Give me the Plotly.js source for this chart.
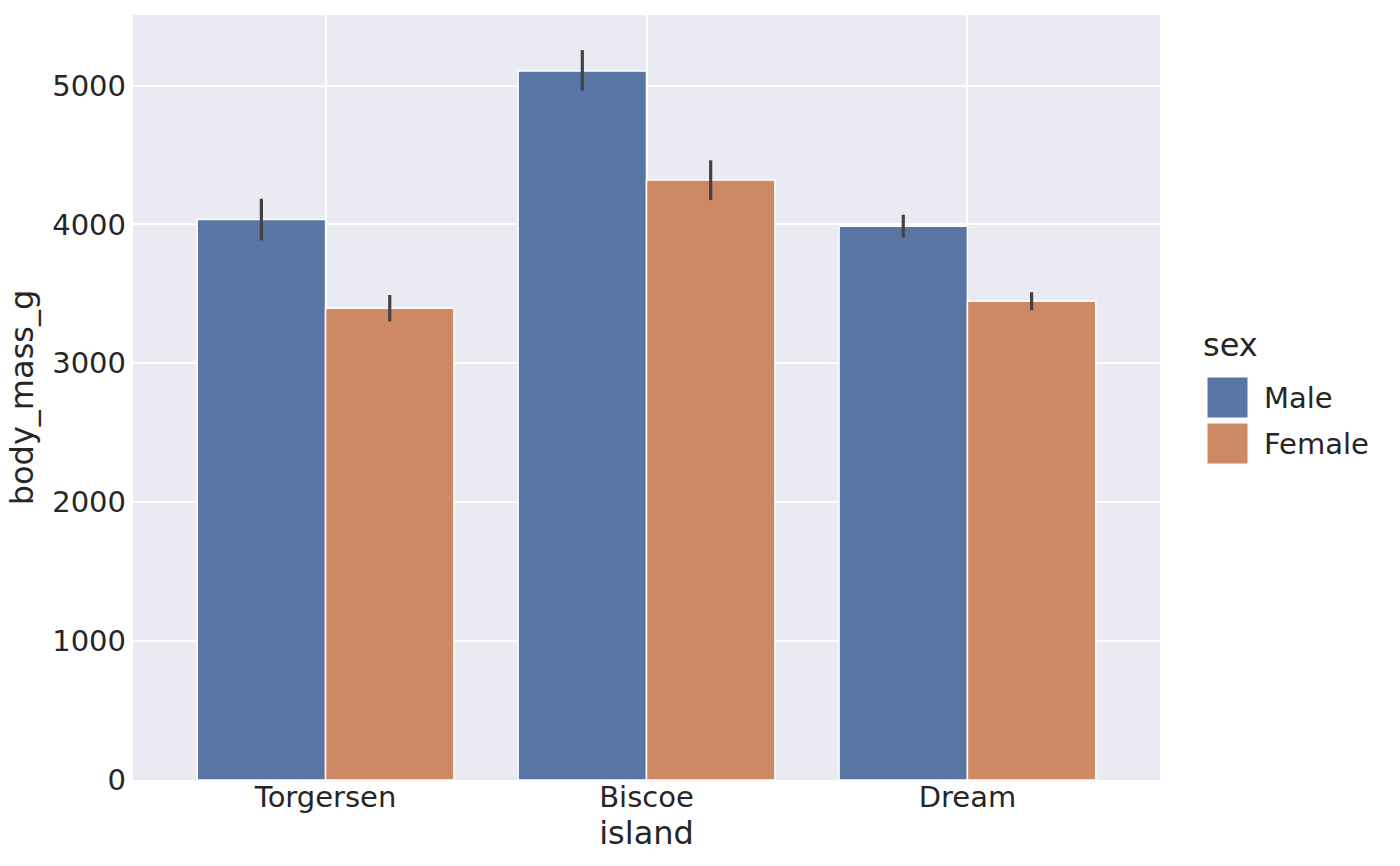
<!DOCTYPE html>
<html>
<head>
<meta charset="utf-8">
<script src="https://cdn.plot.ly/plotly-3.0.1.min.js"></script>
<style>html,body{margin:0;padding:0;background:#fff;}#chart{width:1400px;height:866px;}</style>
</head>
<body>
<div id="chart"></div>
<script>
// ---- data ----
const islands = ['Torgersen', 'Biscoe', 'Dream'];
const sexLabels = ['Male', 'Female'];
const maleMass = [4034.8, 5104.5, 3987.1];
const femaleMass = [3395.8, 4319.4, 3446.3];
const maleCiLow = [3885, 4965, 3905];
const maleCiHigh = [4185, 5255, 4070];
const femaleCiLow = [3302, 4175, 3382];
const femaleCiHigh = [3492, 4462, 3512];
const yTicks = [0, 1000, 2000, 3000, 4000, 5000];

// ---- styling ----
const colors = ['#5975a4', '#cc8963'];
const textColor = '#262626';
const fontFam = 'DejaVu Sans, sans-serif';
const tickSize = 29;
const titleSize = 32;

function errArrays(mean, lo, hi) {
  return {
    type: 'data', symmetric: false,
    array: hi.map((h, i) => h - mean[i]),
    arrayminus: mean.map((m, i) => m - lo[i]),
    color: '#424242', thickness: 3.2, width: 0
  };
}

const series = [
  {name: sexLabels[0], y: maleMass, lo: maleCiLow, hi: maleCiHigh},
  {name: sexLabels[1], y: femaleMass, lo: femaleCiLow, hi: femaleCiHigh}
];

const traces = series.map((s, i) => ({
  type: 'bar', name: s.name, x: islands, y: s.y,
  marker: {color: colors[i], line: {color: '#ffffff', width: 1.5}},
  error_y: errArrays(s.y, s.lo, s.hi),
  showlegend: false, hoverinfo: 'x+y+name'
}));

// custom legend (matplotlib style large swatches)
const L = 133, R = 1160, T = 15, B = 780;
const px = v => (v - L) / (R - L);
const py = v => (B - v) / (B - T);
const shapes = [];
const annotations = [{
  text: 'sex', xref: 'paper', yref: 'paper', x: px(1201), y: py(345),
  xanchor: 'left', yanchor: 'middle', showarrow: false,
  font: {family: fontFam, size: titleSize, color: textColor}
}];
sexLabels.forEach((lab, i) => {
  const top = 377 + i * 46;
  shapes.push({type: 'rect', xref: 'paper', yref: 'paper',
    x0: px(1207), x1: px(1248), y0: py(top + 41), y1: py(top),
    fillcolor: colors[i], line: {color: '#ffffff', width: 1}});
  annotations.push({text: lab, xref: 'paper', yref: 'paper',
    x: px(1262), y: py(top + 21), xanchor: 'left', yanchor: 'middle',
    showarrow: false, font: {family: fontFam, size: tickSize, color: textColor}});
});

const layout = {
  width: 1400, height: 866,
  margin: {l: L, r: 1400 - R, t: T, b: 866 - B, pad: 0},
  paper_bgcolor: '#ffffff', plot_bgcolor: '#eaeaf2',
  font: {family: fontFam, size: tickSize, color: textColor},
  barmode: 'group', bargap: 0.2, bargroupgap: 0,
  showlegend: false,
  xaxis: {
    type: 'category', range: [-0.6, 2.6],
    showgrid: true, gridcolor: '#ffffff', gridwidth: 2,
    showline: false, zeroline: false, ticks: '',
    ticklabelstandoff: -3,
    tickfont: {family: fontFam, size: tickSize, color: textColor},
    title: {text: 'island', font: {family: fontFam, size: titleSize, color: textColor}, standoff: 2}
  },
  yaxis: {
    range: [0, 5508], tickvals: yTicks, ticktext: yTicks.map(String),
    showgrid: true, gridcolor: '#ffffff', gridwidth: 2,
    showline: false, zeroline: false, ticks: '',
    ticklabelstandoff: 6,
    tickfont: {family: fontFam, size: tickSize, color: textColor},
    title: {text: 'body_mass_g', font: {family: fontFam, size: titleSize, color: textColor}, standoff: 8}
  },
  shapes: shapes,
  annotations: annotations
};

Plotly.newPlot('chart', traces, layout, {displayModeBar: false, staticPlot: true});
</script>
</body>
</html>
